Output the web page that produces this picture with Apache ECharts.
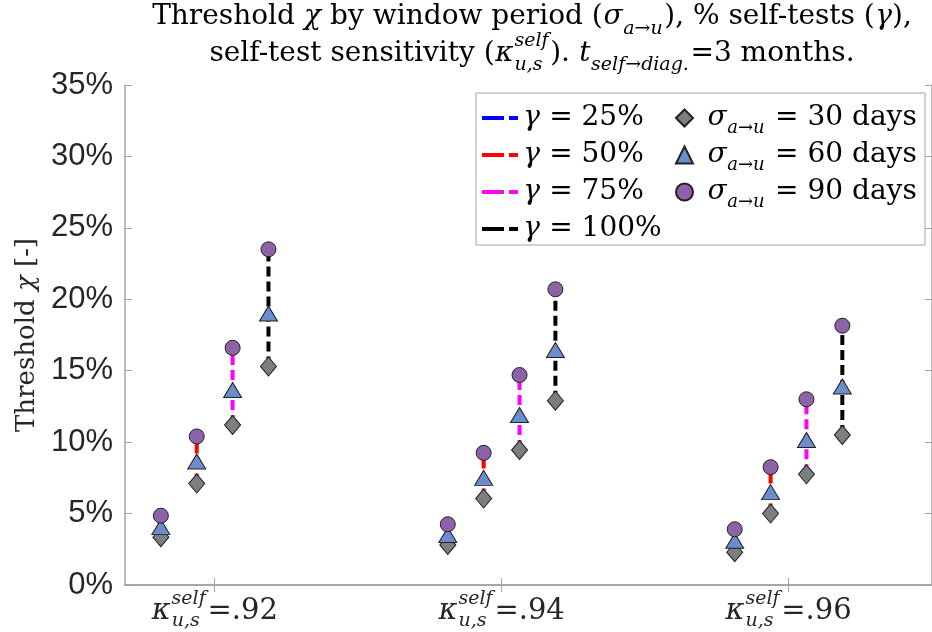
<!DOCTYPE html>
<html>
<head>
<meta charset="utf-8">
<script src="https://cdn.jsdelivr.net/npm/echarts@6/dist/echarts.min.js"></script>
<style>
  html, body { margin: 0; padding: 0; background: #fff; }
  #chart { width: 932px; height: 632px; }
</style>
</head>
<body>
<div id="chart"></div>
<script>
// self-test sensitivity groups (x axis)
const kappas = ['.92', '.94', '.96'];
// gamma = % self-tests
const gammas = ['25%', '50%', '75%', '100%'];
const gammaColors = ['#0000ff', '#ff0000', '#ff00ff', '#000000'];
// window period labels
const windows = ['30 days', '60 days', '90 days'];

// threshold chi (%) per kappa group, per gamma
const days30 = [[3.35, 7.1, 11.2, 15.3], [2.8, 6.05, 9.45, 12.9], [2.3, 5.0, 7.75, 10.5]];
const days60 = [[4.05, 8.65, 13.65, 19.0], [3.5, 7.5, 11.9, 16.45], [3.1, 6.5, 10.15, 13.9]];
const days90 = [[4.85, 10.4, 16.6, 23.5], [4.25, 9.25, 14.7, 20.7], [3.9, 8.25, 13.0, 18.15]];

// horizontal shift of each gamma inside a group
const shift = [-0.1875, -0.0625, 0.0625, 0.1875];

const SERIF = "'DejaVu Serif', 'Liberation Serif', serif";
const SANS = "'Liberation Sans', Arial, sans-serif";

// --- fake latex sub/superscripts with rich text (3 lines: sup / main / sub)
const measureCtx = document.createElement('canvas').getContext('2d');
function textWidth(str, size, italic) {
    measureCtx.font = (italic ? 'italic ' : 'normal ') + size + 'px ' + SERIF;
    return Math.ceil(measureCtx.measureText(str).width);
}
let styleId = 0;
function buildMath(pieces, rich, o) {
    const rows = [[], [], []];
    const addTok = (row, text, w, size, italic) => {
        if (w <= 0) return;
        const key = 't' + (styleId++);
        rich[key] = {
            fontFamily: SERIF, fontSize: size, fontStyle: italic ? 'italic' : 'normal',
            fontWeight: 'normal', color: o.color, width: w, align: 'center',
            lineHeight: o.lh[row], verticalAlign: 'middle', padding: 0
        };
        rows[row].push('{' + key + '|' + (text || ' ') + '}');
    };
    const addScript = (row, text, w) => {
        const tw = text ? textWidth(text, o.small, true) : 0;
        if (tw) addTok(row, text, tw, o.small, true);
        addTok(row, '', w - tw, o.small, false);
    };
    pieces.forEach(([text, italic, sup, sub]) => {
        if (text) {
            const w = textWidth(text, o.size, italic);
            addTok(0, '', w, o.small, false);
            addTok(1, text, w, o.size, italic);
            addTok(2, '', w, o.small, false);
        }
        if (sup || sub) {
            const w = Math.max(sup ? textWidth(sup, o.small, true) : 0,
                               sub ? textWidth(sub, o.small, true) : 0) + 1;
            addScript(0, sup, w);
            addTok(1, '', w, o.size, false);
            addScript(2, sub, w);
        }
    });
    return rows.map(r => r.join('')).join('\n');
}

// title
const titleRich = {};
const titleText =
    buildMath([['Threshold ', false], ['χ', true], [' by window period (', false], ['σ', true, null, 'a→u'],
               ['), % self-tests (', false], ['γ', true], ['),', false]],
              titleRich, {size: 28, small: 19, lh: [4, 14, 10], color: '#000'}) + '\n' +
    buildMath([['self-test sensitivity (', false], ['κ', true, 'self', 'u,s'], ['). ', false],
               ['t', true, null, 'self→diag.'], ['=3 months.', false]],
              titleRich, {size: 28, small: 19, lh: [14, 12, 10], color: '#000'});

// x labels
const xRich = {};
const xLabels = kappas.map(k => buildMath([['κ', true, 'self', 'u,s'], ['=' + k, false]],
    xRich, {size: 29, small: 19, lh: [12, 12, 8], color: '#262626'}));

// legends
const legendRich = {};
const legendText = {};
gammas.forEach(g => {
    legendText['g' + g] = buildMath([['γ', true], [' = ' + g, false]], legendRich,
        {size: 28, small: 18, lh: [6, 14, 6], color: '#000'});
});
windows.forEach(w => {
    legendText['s' + w] = buildMath([[' ', false], ['σ', true, null, 'a→u'], [' = ' + w, false]], legendRich,
        {size: 28, small: 18, lh: [6, 14, 6], color: '#000'});
});

// series
const series = [];
gammas.forEach((g, j) => {
    kappas.forEach((k, i) => {
        const x = i + 1 + shift[j];
        series.push({
            name: 'g' + g,
            type: 'line',
            showSymbol: false,
            color: gammaColors[j],
            lineStyle: {color: gammaColors[j], width: 4, type: [10, 5]},
            data: [[x, days30[i][j]], [x, days90[i][j]]],
            z: 2
        });
    });
});
const markerSets = [
    {vals: days30, symbol: 'diamond', size: [16, 19], color: '#7b7f7f'},
    {vals: days60, symbol: 'triangle', size: [18, 15], color: '#6a8dcd'},
    {vals: days90, symbol: 'circle', size: 15, color: '#8e62a6'}
];
markerSets.forEach((m, s) => {
    const pts = [];
    m.vals.forEach((row, i) => row.forEach((v, j) => pts.push([i + 1 + shift[j], v])));
    series.push({
        name: 's' + windows[s],
        type: 'scatter',
        symbol: m.symbol,
        symbolSize: m.size,
        itemStyle: {color: m.color, borderColor: '#222', borderWidth: 1, opacity: 1},
        data: pts,
        z: 3
    });
});

const axisGray = '#a3a3a3';
const chart = echarts.init(document.getElementById('chart'), null, {renderer: 'canvas'});
chart.setOption({
    animation: false,
    backgroundColor: '#fff',
    title: {
        text: titleText,
        left: 532,
        top: 6,
        textAlign: 'center',
        padding: 0,
        textStyle: {rich: titleRich, fontFamily: SERIF, fontWeight: 'normal'}
    },
    grid: {left: 125, top: 85, width: 810, height: 500, containLabel: false},
    xAxis: [{
        type: 'value', min: 0.6875, max: 3.5, position: 'bottom',
        axisLine: {lineStyle: {color: axisGray, width: 1.5}},
        axisTick: {inside: true, length: 7, customValues: [1, 2, 3], lineStyle: {color: axisGray}},
        axisLabel: {
            customValues: [1, 2, 3], margin: 8,
            formatter: v => xLabels[Math.round(v) - 1],
            rich: xRich
        },
        splitLine: {show: false}
    }, {
        type: 'value', min: 0.6875, max: 3.5, position: 'top',
        axisLine: {lineStyle: {color: axisGray, width: 1.5}},
        axisTick: {inside: true, length: 7, customValues: [1, 2, 3], lineStyle: {color: axisGray}},
        axisLabel: {show: false},
        splitLine: {show: false}
    }],
    yAxis: [{
        type: 'value', min: 0, max: 35, interval: 5, position: 'left',
        axisLine: {show: true, lineStyle: {color: axisGray, width: 1.5}},
        axisTick: {show: true, inside: true, length: 7, lineStyle: {color: axisGray}},
        axisLabel: {
            formatter: v => v + '%', margin: 12,
            fontFamily: SANS, fontSize: 31, color: '#262626'
        },
        splitLine: {show: false},
        name: '{n|Threshold }{i|χ}{n| [-]}',
        nameLocation: 'middle',
        nameGap: 82,
        nameTextStyle: {
            rich: {
                n: {fontFamily: SERIF, fontSize: 26, color: '#262626'},
                i: {fontFamily: SERIF, fontSize: 26, fontStyle: 'italic', color: '#262626'}
            }
        }
    }, {
        type: 'value', min: 0, max: 35, interval: 5, position: 'right',
        axisLine: {show: true, lineStyle: {color: axisGray, width: 1.5}},
        axisTick: {show: true, inside: true, length: 7, lineStyle: {color: axisGray}},
        axisLabel: {show: false},
        splitLine: {show: false}
    }],
    legend: [{
        data: gammas.map(g => ({name: 'g' + g, icon: 'path://M0,0H22V4H0Z M27,0H36V4H27Z'})),
        orient: 'vertical',
        left: 482, top: 99,
        padding: 0, itemGap: -1,
        itemWidth: 36, itemHeight: 4,
        selectedMode: false,
        formatter: n => legendText[n],
        textStyle: {rich: legendRich}
    }, {
        data: windows.map(w => 's' + w),
        orient: 'vertical',
        left: 675, top: 99,
        padding: 0, itemGap: -1,
        itemWidth: 17, itemHeight: 17,
        selectedMode: false,
        formatter: n => legendText[n],
        textStyle: {rich: legendRich}
    }],
    graphic: [{
        type: 'rect',
        shape: {x: 476, y: 93, width: 449, height: 152},
        style: {fill: '#fff', stroke: axisGray, lineWidth: 1},
        z: 3
    }],
    series: series
});
</script>
</body>
</html>
